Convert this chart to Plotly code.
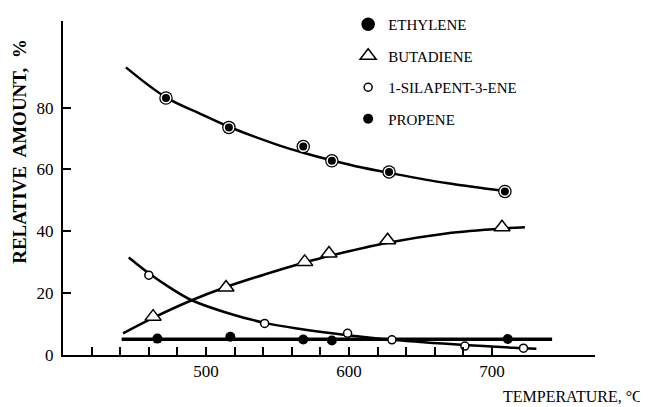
import plotly.graph_objects as go

# ---- data ----
eth_T = [472, 516, 568, 588, 628, 709]
eth_v = [83.1, 73.6, 67.4, 62.8, 59.2, 52.9]
eth_curve_T = [444, 472, 496, 516, 551, 568, 589, 609, 628, 668, 709]
eth_curve_v = [93.0, 83.3, 78.0, 73.8, 67.8, 65.4, 62.8, 60.6, 58.9, 55.6, 53.0]

but_T = [463, 514, 569, 586, 627, 707]
but_v = [12.4, 21.8, 30.1, 32.8, 37.1, 41.3]
but_curve_T = [442, 463, 490, 514, 542, 569, 586, 627, 668, 707, 723]
but_curve_v = [7.0, 12.0, 17.7, 22.0, 26.2, 29.9, 32.0, 36.3, 39.3, 40.9, 41.3]

sil_T = [460, 541, 599, 630, 681, 722]
sil_v = [25.8, 10.2, 7.0, 4.9, 2.9, 2.2]
sil_curve_T = [446, 460, 475, 490, 515, 542, 566, 599, 630, 681, 722, 731]
sil_curve_v = [31.5, 26.4, 21.7, 17.7, 13.6, 10.3, 8.4, 6.4, 4.9, 3.2, 2.2, 2.0]

pro_T = [466, 517, 568, 588, 711]
pro_v = [5.3, 5.9, 5.0, 4.7, 5.2]
pro_curve_T = [441, 742]
pro_curve_v = [5.1, 5.1]

x_tickvals = list(range(420, 701, 20))
x_ticktext = [str(v) if v % 100 == 0 else "" for v in x_tickvals]
y_tickvals = [0, 20, 40, 60, 80]

names = ["ETHYLENE", "BUTADIENE", "1-SILAPENT-3-ENE", "PROPENE"]

SERIF = "Liberation Serif"

fig = go.Figure()

# fitted curves
for T, v, w in [(eth_curve_T, eth_curve_v, 2.5), (but_curve_T, but_curve_v, 2.5),
                (sil_curve_T, sil_curve_v, 2.5), (pro_curve_T, pro_curve_v, 3.5)]:
    fig.add_trace(go.Scatter(x=T, y=v, mode="lines", line=dict(color="black", width=w, shape="spline"),
                             showlegend=False, hoverinfo="skip"))

# ethylene: outer black disc + inner black disc with white ring
fig.add_trace(go.Scatter(x=eth_T, y=eth_v, mode="markers", name=names[0], legendgroup="g1",
                         marker=dict(symbol="circle", size=13.5, color="black", line=dict(width=0))))
fig.add_trace(go.Scatter(x=eth_T, y=eth_v, mode="markers", showlegend=False, legendgroup="g1",
                         marker=dict(symbol="circle", size=9.5, color="black", line=dict(color="white", width=1.5))))
fig.add_trace(go.Scatter(x=but_T, y=but_v, mode="markers", name=names[1], legendgroup="g2",
                         marker=dict(symbol="triangle-up", size=14, color="white", line=dict(color="black", width=1.5))))
fig.add_trace(go.Scatter(x=sil_T, y=sil_v, mode="markers", name=names[2], legendgroup="g3",
                         marker=dict(symbol="circle", size=8, color="white", line=dict(color="black", width=1.5))))
fig.add_trace(go.Scatter(x=pro_T, y=pro_v, mode="markers", name=names[3], legendgroup="g4",
                         marker=dict(symbol="circle", size=10, color="black", line=dict(width=0))))

fig.update_layout(
    width=640, height=399,
    margin=dict(l=55, r=53, t=13, b=52, autoexpand=False),
    paper_bgcolor="white", plot_bgcolor="white",
    font=dict(family=SERIF, color="black", size=16),
    showlegend=True,
    legend=dict(x=0.536, y=1.02, xref="paper", yref="container", xanchor="left", yanchor="top",
                font=dict(family=SERIF, size=15, color="black"),
                bgcolor="rgba(0,0,0,0)", traceorder="grouped", tracegroupgap=9,
                itemsizing="trace"),
    xaxis=dict(range=[400, 772], showline=True, linecolor="black", linewidth=2,
               showgrid=False, zeroline=False, tickmode="array", tickvals=x_tickvals,
               ticktext=x_ticktext, ticks="inside", ticklen=8, tickwidth=1.5, tickcolor="black",
               tickfont=dict(family=SERIF, size=17), ticklabelstandoff=0),
    yaxis=dict(range=[0, 108], showline=True, linecolor="black", linewidth=2,
               showgrid=False, zeroline=False, tickmode="array", tickvals=y_tickvals,
               ticks="inside", ticklen=8, tickwidth=1.5, tickcolor="black",
               tickfont=dict(family=SERIF, size=17), ticklabelstandoff=4),
    annotations=[
        dict(text="<b>RELATIVE  AMOUNT,  %</b>", xref="paper", yref="paper",
             x=-0.081, y=0.611, textangle=-90, showarrow=False,
             xanchor="center", yanchor="middle", font=dict(family=SERIF, size=19)),
        dict(text="TEMPERATURE, °C", xref="paper", yref="paper",
             x=1.094, y=-0.124, showarrow=False, xanchor="right", yanchor="middle",
             font=dict(family=SERIF, size=16)),
    ],
)

fig.write_html("out.html")
